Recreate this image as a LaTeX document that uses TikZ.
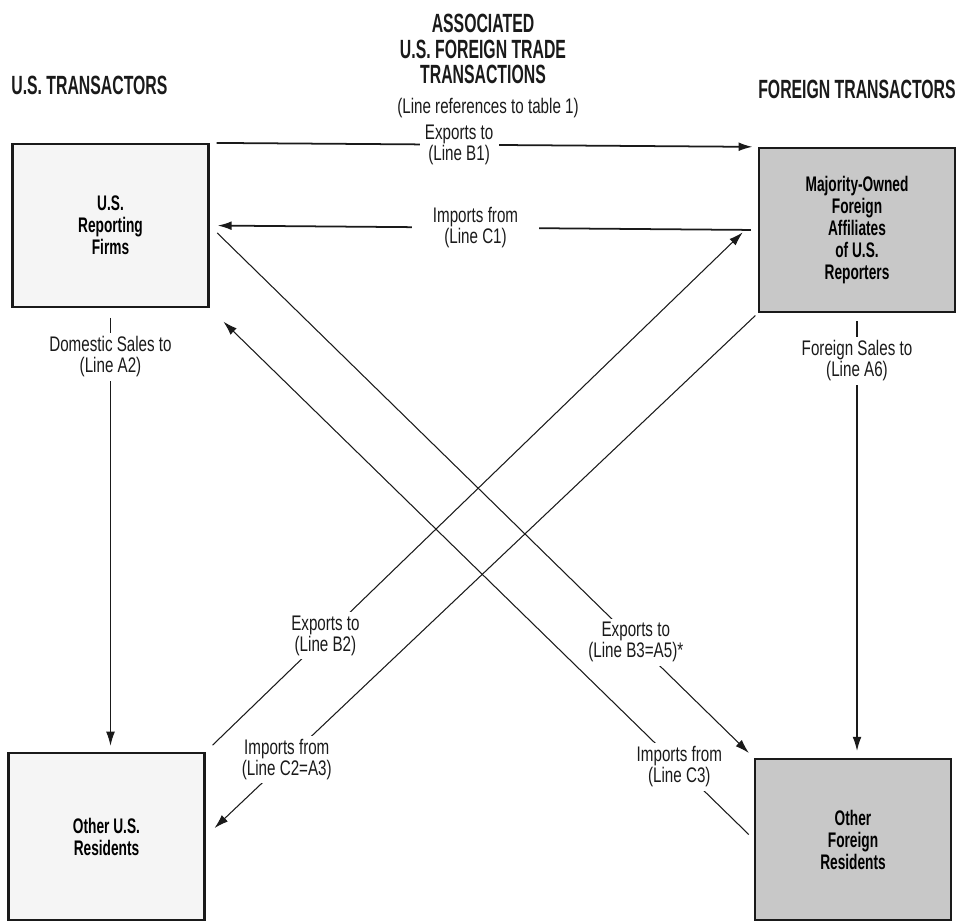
\documentclass[tikz,border=0pt]{standalone}
\usepackage{fontspec}
\usetikzlibrary{arrows.meta}
\newfontfamily\headfont{Liberation Sans}[FakeStretch=0.6]
\newfontfamily\flowfont{Liberation Sans}[FakeStretch=0.72]
\newfontfamily\boxfont{Liberation Sans}[FakeStretch=0.65]
\definecolor{tradeink}{HTML}{1A1A1A}
\definecolor{tradepale}{HTML}{F5F5F5}
\definecolor{tradeshade}{HTML}{C8C8C8}
\tikzset{
  trade box/.style={draw=tradeink, line width=1.3pt, fill=tradepale,
    minimum width=3.92cm, minimum height=3.26cm, align=center,
    font=\boxfont\bfseries\fontsize{12}{12.5}\selectfont},
  affiliate box/.style={trade box, fill=tradeshade},
  trade flow/.style={draw=tradeink, line width=0.6pt,
    -{Latex[length=8pt, width=5pt]}},
  flow label/.style={fill=white, align=center, inner xsep=3pt, inner ysep=2pt,
    text=tradeink, font=\flowfont\fontsize{12}{12}\selectfont},
  sector heading/.style={font=\headfont\bfseries\fontsize{15}{14.7}\selectfont,
    text=tradeink, align=center, inner sep=0pt},
  note label/.style={font=\flowfont\fontsize{12}{12}\selectfont, text=tradeink,
    inner sep=0pt},
}

\begin{document}
\begin{tikzpicture}[x=0.02cm, y=-0.02cm]
  \useasboundingbox (0,0) rectangle (959,923);

  \node[sector heading] (title) at (483,49) {ASSOCIATED\\U.S. FOREIGN TRADE\\TRANSACTIONS};
  \node[note label] (tableref) at (488,108) {(Line references to table 1)};
  \node[sector heading, anchor=west] (ushead) at (11,85) {U.S. TRANSACTORS};
  \node[sector heading, anchor=east] (foreignhead) at (956,89) {FOREIGN TRANSACTORS};

  \node[trade box] (usfirms) at (110.5,225.5) {U.S.\\Reporting\\Firms};
  \node[affiliate box, minimum height=3.28cm] (affiliates) at (857,230)
    {Majority-Owned\\Foreign\\Affiliates\\of U.S.\\Reporters};
  \node[trade box, minimum height=3.34cm] (usres) at (106.5,836.5) {Other U.S.\\Residents};
  \node[affiliate box, minimum height=3.22cm] (foreignres) at (853,839.5)
    {Other\\Foreign\\Residents};

  \draw[trade flow, line width=1pt, shorten <=4pt, shorten >=3pt]
    (usfirms.north east) -- (affiliates.north west)
    node[flow label, pos=0.455] (b1) {Exports to\\(Line B1)};
  \draw[trade flow, line width=1pt, shorten <=4pt, shorten >=4.5pt]
    (affiliates.west) -- (usfirms.east)
    node[flow label, pos=0.515, inner xsep=12pt] (c1) {Imports from\\(Line C1)};
  \draw[trade flow, shorten <=5.5pt, shorten >=3.5pt]
    (usfirms.south) -- (usfirms.south |- usres.north)
    node[flow label, pos=0.11] (a2) {Domestic Sales to\\(Line A2)};
  \draw[trade flow, shorten <=4.5pt, shorten >=4pt]
    (affiliates.south) -- (affiliates.south |- foreignres.north)
    node[flow label, pos=0.107] (a6) {Foreign Sales to\\(Line A6)};
  \draw[trade flow, shorten <=5.5pt, shorten >=12pt]
    (usres.north east) -- ([yshift=7pt]affiliates.west)
    node[flow label, pos=0.217] (b2) {Exports to\\(Line B2)};
  \draw[trade flow, shorten <=2pt, shorten >=7pt]
    (affiliates.south west) -- (usres.east)
    node[flow label, pos=0.853] (c2) {Imports from\\(Line C2=A3)};
  \draw[trade flow, shorten <=6pt, shorten >=4pt]
    (usfirms.east) -- (foreignres.north west)
    node[flow label, pos=0.783] (b3) {Exports to\\(Line B3=A5)*};
  \draw[trade flow, shorten <=4pt, shorten >=11pt]
    (foreignres.west) -- (usfirms.south east)
    node[flow label, pos=0.137] (c3) {Imports from\\(Line C3)};
\end{tikzpicture}
\end{document}
